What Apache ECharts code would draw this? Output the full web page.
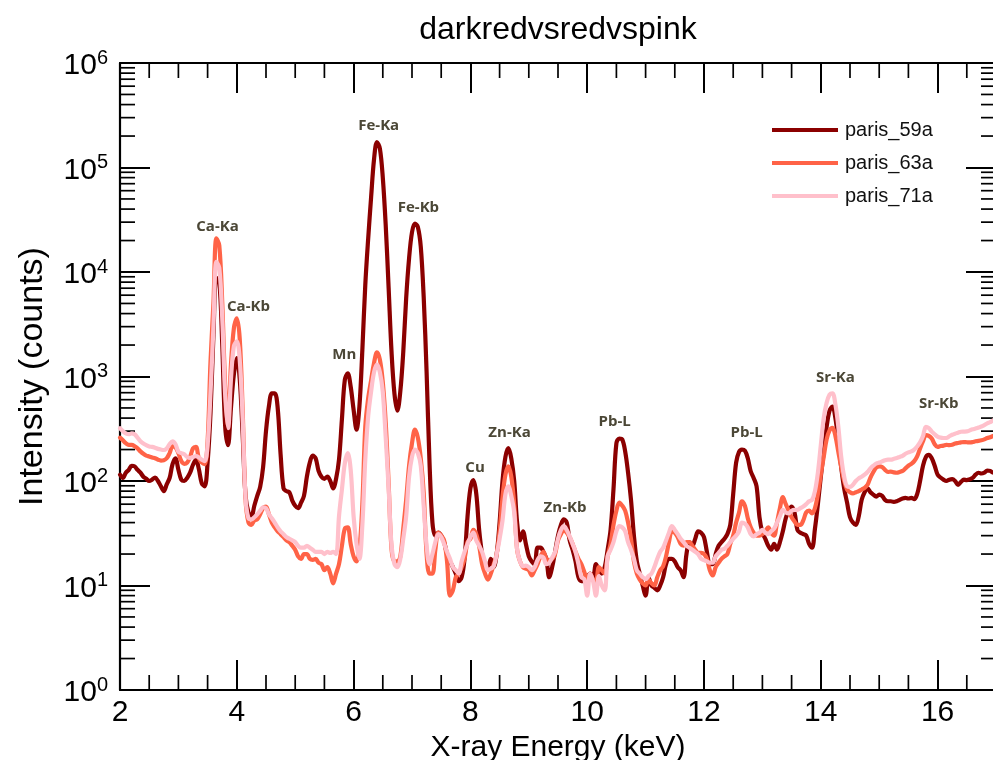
<!DOCTYPE html>
<html>
<head>
<meta charset="utf-8">
<title>darkredvsredvspink</title>
<script src="https://cdn.jsdelivr.net/npm/echarts@6/dist/echarts.min.js"></script>
<style>
  html, body { margin: 0; padding: 0; background: #ffffff; overflow: hidden; }
  #chart { width: 1000px; height: 760px; }
</style>
</head>
<body>
<div id="chart"></div>
<script>
// Channel energies (keV), 0.05 keV bins from 2 to 17 keV
const energyKeV = [
  2.00,2.05,2.10,2.15,2.20,2.25,2.30,2.35,2.40,2.45,2.50,2.55,2.60,2.65,2.70,2.75,2.80,2.85,2.90,2.95,
  3.00,3.05,3.10,3.15,3.20,3.25,3.30,3.35,3.40,3.45,3.50,3.55,3.60,3.65,3.70,3.75,3.80,3.85,3.90,3.95,
  4.00,4.05,4.10,4.15,4.20,4.25,4.30,4.35,4.40,4.45,4.50,4.55,4.60,4.65,4.70,4.75,4.80,4.85,4.90,4.95,
  5.00,5.05,5.10,5.15,5.20,5.25,5.30,5.35,5.40,5.45,5.50,5.55,5.60,5.65,5.70,5.75,5.80,5.85,5.90,5.95,
  6.00,6.05,6.10,6.15,6.20,6.25,6.30,6.35,6.40,6.45,6.50,6.55,6.60,6.65,6.70,6.75,6.80,6.85,6.90,6.95,
  7.00,7.05,7.10,7.15,7.20,7.25,7.30,7.35,7.40,7.45,7.50,7.55,7.60,7.65,7.70,7.75,7.80,7.85,7.90,7.95,
  8.00,8.05,8.10,8.15,8.20,8.25,8.30,8.35,8.40,8.45,8.50,8.55,8.60,8.65,8.70,8.75,8.80,8.85,8.90,8.95,
  9.00,9.05,9.10,9.15,9.20,9.25,9.30,9.35,9.40,9.45,9.50,9.55,9.60,9.65,9.70,9.75,9.80,9.85,9.90,9.95,
  10.00,10.05,10.10,10.15,10.20,10.25,10.30,10.35,10.40,10.45,10.50,10.55,10.60,10.65,10.70,10.75,10.80,10.85,10.90,10.95,
  11.00,11.05,11.10,11.15,11.20,11.25,11.30,11.35,11.40,11.45,11.50,11.55,11.60,11.65,11.70,11.75,11.80,11.85,11.90,11.95,
  12.00,12.05,12.10,12.15,12.20,12.25,12.30,12.35,12.40,12.45,12.50,12.55,12.60,12.65,12.70,12.75,12.80,12.85,12.90,12.95,
  13.00,13.05,13.10,13.15,13.20,13.25,13.30,13.35,13.40,13.45,13.50,13.55,13.60,13.65,13.70,13.75,13.80,13.85,13.90,13.95,
  14.00,14.05,14.10,14.15,14.20,14.25,14.30,14.35,14.40,14.45,14.50,14.55,14.60,14.65,14.70,14.75,14.80,14.85,14.90,14.95,
  15.00,15.05,15.10,15.15,15.20,15.25,15.30,15.35,15.40,15.45,15.50,15.55,15.60,15.65,15.70,15.75,15.80,15.85,15.90,15.95,
  16.00,16.05,16.10,16.15,16.20,16.25,16.30,16.35,16.40,16.45,16.50,16.55,16.60,16.65,16.70,16.75,16.80,16.85,16.90,16.95,
  17.00
];

// Counts per channel, sample paris_59a
const paris59a = [
  115,107,120,128,140,138,128,120,110,105,100,103,108,100,89,80,93,107,145,165,
  128,103,100,107,120,143,160,130,95,89,150,450,2500,8800,8200,2100,340,220,500,1050,
  1500,950,280,72,50,46,58,72,88,135,300,520,690,690,500,180,85,80,78,65,
  58,55,62,72,110,150,175,165,125,110,105,110,100,85,105,160,390,930,1070,800,
  480,310,520,1800,7500,21000,52000,120000,175000,152000,80000,28000,7000,1700,680,470,720,1700,5600,13500,
  24000,29000,27000,17500,5800,1100,150,40,30,32,30,26,20,17,15,13,11,12,18,45,
  85,102,76,34,20,15,15,18,15,20,40,100,170,206,165,100,40,27,33,25,
  19,17,16,23,23,21,18,12,15,21,30,38,43,40,27,22,17,12,11,11,
  12,13,12,16,14,13,15,22,34,83,230,255,250,192,120,66,30,17,13,10,
  8,12,10,9.5,9,10,12,16,18,18,17,15,14,12,20,26,24,28,33,32,
  29,21,16,16,20,24,26,28,31,38,75,150,190,200,195,165,124,107,89,45,
  32,28,24,22,25,22,26,33,44,52,57,50,34,32,31,30,25,23,35,60,
  110,190,330,470,515,400,240,135,85,62,45,40,38,46,66,78,85,78,74,71,
  74,72,66,64,64,63,64,66,68,69,68,69,67,75,100,140,170,178,165,140,
  115,108,103,100,103,104,100,92,98,103,102,104,107,115,120,118,120,126,125,120,
  122
];

// Counts per channel, sample paris_63a
const paris63a = [
  260,245,230,222,222,215,205,192,182,175,172,168,165,160,157,158,165,185,215,210,
  185,155,146,150,170,205,212,165,150,145,240,1400,5000,21000,18000,5200,850,340,1300,2900,
  3600,2300,480,66,40,38,42,43,48,55,57,48,40,36,33,31,29,27,26,24,
  22,19,18,20,20,18,17.6,18,16.5,16,14,15,13,10.5,13,16,24,35,36,25,
  19,17,22,60,330,620,920,1350,1700,1450,880,360,95,22,17,17,19,35,66,140,
  230,310,260,165,78,20,13,13,22,32,30,27,17,8,9,12,13,15,18,26,
  28,34,31,24,16,13,11.4,13,16,20,33,70,115,138,110,60,22,17,15,14.5,
  14,12.5,14,16,19,21,18,17.5,18,20,27,31,34,32,29,25,21,18,16,13.5,
  11.4,13,11.5,11,15,14,13,19,25,38,52,62,58,52,40,28,17,13,11.4,10.5,
  10,11.4,10.5,10,12,14,15.3,19,26,33,32,29,25,24,26,26,24,22,20.5,20.5,
  20,18,14,12.5,15,16.5,18,19,20,25,30,40,50,64,58,44,36,32,30,30,
  31,33,36,32,30,40,55,70,60,52,45,41,38,38,42,50,52,49,55,75,
  115,170,250,305,322,270,190,135,100,83,78,76,78,80,83,86,92,108,122,135,
  138,136,128,122,123,121,120,122,125,132,140,146,155,172,205,240,275,270,255,225,
  212,216,218,222,220,222,228,231,234,236,235,234,236,240,242,245,250,258,262,270,
  275
];

// Counts per channel, sample paris_71a
const paris71a = [
  320,300,285,280,285,280,260,240,228,220,214,212,208,203,200,198,205,225,240,225,
  190,185,180,170,166,170,173,168,160,155,220,700,3000,12500,11000,3700,680,320,950,1950,
  2170,1450,400,68,44,43,45,48,52,56,55,48,44,40,36,33,31,29,28,27,
  26,24,23,23,24,23,22,21,21,21,20,21,20.5,21,20,46,83,148,185,128,
  46,25,18,38,160,420,720,1100,1300,1100,710,260,85,24,16,15,18,28,46,110,
  170,200,185,140,58,24,16,20,26,31,29,25,21,18,15,14,13,17,21,25,
  29,32,27,24,21,17,14,14.5,15.3,20,28,42,75,89,72,50,22,17,15.3,15.5,
  15,14,15,17.5,19,18.5,16,16.5,18.5,21,28,34,37,34,29.5,25,21,16,12,11.5,
  8,13,11,8,12.3,10,9,19,22,26,33,37,36,33,26,22,18,14,13,12,
  11.5,12.3,13,15,18,21,23,27,32,37,34,31,28,26,24,23,22,21,20,18,
  17.5,17,16.5,16.5,19,20.5,22,22.5,24,26,28,30,33,40,39,36,31,29.5,31,32,
  34,32,31,33,35,40,46,53,50,49,52,53,53,55,57,60,64,66,80,120,
  220,400,560,670,690,540,330,170,110,89,88,92,100,106,110,115,122,132,140,147,
  150,154,158,160,160,163,166,170,174,182,188,192,200,214,235,270,330,320,297,280,
  266,260,258,258,268,277,284,290,296,297,298,305,312,318,325,332,342,356,365,380,
  390
];

const seriesNames = ['paris_59a', 'paris_63a', 'paris_71a'];
const seriesColors = ['#8b0000', '#ff6347', '#ffc0cb'];

// Emission-line tags: name, energy (keV) and counts level where the tag sits
const peakNames  = ['Ca-Ka', 'Ca-Kb', 'Mn', 'Fe-Ka', 'Fe-Kb', 'Cu', 'Zn-Ka', 'Zn-Kb', 'Pb-L', 'Pb-L', 'Sr-Ka', 'Sr-Kb'];
const peakEnergy = [3.67, 4.20, 5.84, 6.43, 7.11, 8.08, 8.67, 9.62, 10.47, 12.73, 14.25, 16.02];
const peakTagY   = [27200, 4640, 1610, 249000, 41000, 134, 290, 56, 371, 292, 966, 545];

// Axis ranges and tick positions
const xRange = [2, 17];
const yRange = [1, 1e6];
const xMinorTicks = [2.5, 3, 3.5, 4.5, 5, 5.5, 6.5, 7, 7.5, 8.5, 9, 9.5, 10.5, 11, 11.5, 12.5, 13, 13.5, 14.5, 15, 15.5, 16.5];
const yMinorMantissa = [2, 3, 4, 5, 6, 7, 8, 9];
const yDecades = [0, 1, 2, 3, 4, 5];

const FONT = "'Liberation Sans', Helvetica, Arial, sans-serif";
const MAJOR_LEN = 30;
const MINOR_LEN = 15;

const chart = echarts.init(document.getElementById('chart'), null, { renderer: 'canvas' });

function pairUp(values) {
  return energyKeV.map((e, i) => [e, values[i]]);
}

// Minor tick marks on all four sides of the frame
const minorTickData = [];
xMinorTicks.forEach(e => minorTickData.push([e, yRange[0], 0]));
yDecades.forEach(d => yMinorMantissa.forEach(m => minorTickData.push([xRange[0], m * Math.pow(10, d), 1])));

function renderMinorTick(params, api) {
  const cs = params.coordSys;
  const kind = api.value(2);
  const style = { stroke: '#000', lineWidth: 1.7 };
  if (kind === 0) {
    const x = api.coord([api.value(0), yRange[0]])[0];
    const yb = cs.y + cs.height, yt = cs.y;
    return { type: 'group', children: [
      { type: 'line', shape: { x1: x, y1: yb, x2: x, y2: yb - MINOR_LEN }, style },
      { type: 'line', shape: { x1: x, y1: yt, x2: x, y2: yt + MINOR_LEN }, style }
    ] };
  }
  const y = api.coord([xRange[0], api.value(1)])[1];
  const xl = cs.x, xr = cs.x + cs.width;
  return { type: 'group', children: [
    { type: 'line', shape: { x1: xl, y1: y, x2: xl + MINOR_LEN, y2: y }, style },
    { type: 'line', shape: { x1: xr, y1: y, x2: xr - MINOR_LEN, y2: y }, style }
  ] };
}

const axisLineStyle = { color: '#000', width: 2.2 };
const tickStyle = { color: '#000', width: 2 };

const spectrumSeries = seriesNames.map((name, i) => ({
  name,
  type: 'line',
  data: pairUp([paris59a, paris63a, paris71a][i]),
  symbol: 'none',
  showSymbol: false,
  smooth: 0.35,
  color: seriesColors[i],
  lineStyle: { width: 4.2, color: seriesColors[i], join: 'round', cap: 'round' },
  z: 3 + i,
  animation: false
}));

const option = {
  backgroundColor: '#ffffff',
  animation: false,
  title: {
    text: 'darkredvsredvspink',
    left: 553,
    top: 9,
    textAlign: 'center',
    textStyle: { fontFamily: FONT, fontSize: 32, fontWeight: 'normal', color: '#000' }
  },
  legend: {
    data: seriesNames.map(n => ({ name: n, icon: 'rect' })),
    orient: 'vertical',
    left: 772,
    top: 120,
    padding: 0,
    itemWidth: 66,
    itemHeight: 4,
    itemGap: 13,
    textStyle: { fontFamily: FONT, fontSize: 20, lineHeight: 20, color: '#111', padding: [0, 0, 0, 2] }
  },
  grid: { left: 120, right: 4, top: 63, bottom: 70, containLabel: false, outerBoundsMode: 'none' },
  xAxis: [
    {
      type: 'value', min: xRange[0], max: xRange[1], interval: 2, position: 'bottom',
      name: 'X-ray Energy (keV)', nameLocation: 'middle', nameGap: 39,
      nameTextStyle: { fontFamily: FONT, fontSize: 30, color: '#000' },
      axisLine: { show: true, lineStyle: axisLineStyle },
      axisTick: { show: true, inside: true, length: MAJOR_LEN, lineStyle: tickStyle },
      axisLabel: { show: true, margin: 8, showMaxLabel: false, fontFamily: FONT, fontSize: 30, color: '#000' },
      splitLine: { show: false }
    },
    {
      type: 'value', min: xRange[0], max: xRange[1], interval: 2, position: 'top',
      axisLine: { show: true, lineStyle: axisLineStyle },
      axisTick: { show: true, inside: true, length: MAJOR_LEN, lineStyle: tickStyle },
      axisLabel: { show: false },
      splitLine: { show: false }
    }
  ],
  yAxis: [
    {
      type: 'log', logBase: 10, min: yRange[0], max: yRange[1], splitNumber: 6, position: 'left',
      name: 'Intensity (counts)', nameLocation: 'middle', nameGap: 70,
      nameTextStyle: { fontFamily: FONT, fontSize: 34, color: '#000' },
      axisLine: { show: true, lineStyle: axisLineStyle },
      axisTick: { show: true, inside: true, length: MAJOR_LEN, lineStyle: tickStyle },
      axisLabel: {
        show: true, margin: 12,
        formatter: v => '{b|10}{s|' + Math.round(Math.log10(v)) + '}',
        rich: {
          b: { fontFamily: FONT, fontSize: 30, color: '#000', lineHeight: 30, padding: [6, 0, 0, 0] },
          s: { fontFamily: FONT, fontSize: 20, color: '#000', lineHeight: 20, verticalAlign: 'top', padding: [0, 0, 14, 0] }
        }
      },
      splitLine: { show: false }
    },
    {
      type: 'log', logBase: 10, min: yRange[0], max: yRange[1], splitNumber: 6, position: 'right',
      axisLine: { show: true, lineStyle: axisLineStyle },
      axisTick: { show: true, inside: true, length: MAJOR_LEN, lineStyle: tickStyle },
      axisLabel: { show: false },
      splitLine: { show: false }
    }
  ],
  series: [
    {
      name: 'minor ticks',
      type: 'custom',
      xAxisIndex: 0, yAxisIndex: 0,
      renderItem: renderMinorTick,
      data: minorTickData,
      clip: false,
      silent: true,
      z: 2
    },
    ...spectrumSeries,
    {
      name: 'line tags',
      type: 'scatter',
      data: peakNames.map((n, i) => ({ name: n, value: [peakEnergy[i], peakTagY[i]] })),
      symbolSize: 1,
      itemStyle: { color: 'rgba(0,0,0,0)' },
      silent: true,
      z: 10,
      label: {
        show: true, position: 'inside', formatter: p => p.name, opacity: 1,
        fontFamily: "'Open Sans', 'Noto Sans', sans-serif", fontWeight: 'bold', fontSize: 15, color: '#4b4736'
      }
    }
  ]
};

chart.setOption(option);
</script>
</body>
</html>
